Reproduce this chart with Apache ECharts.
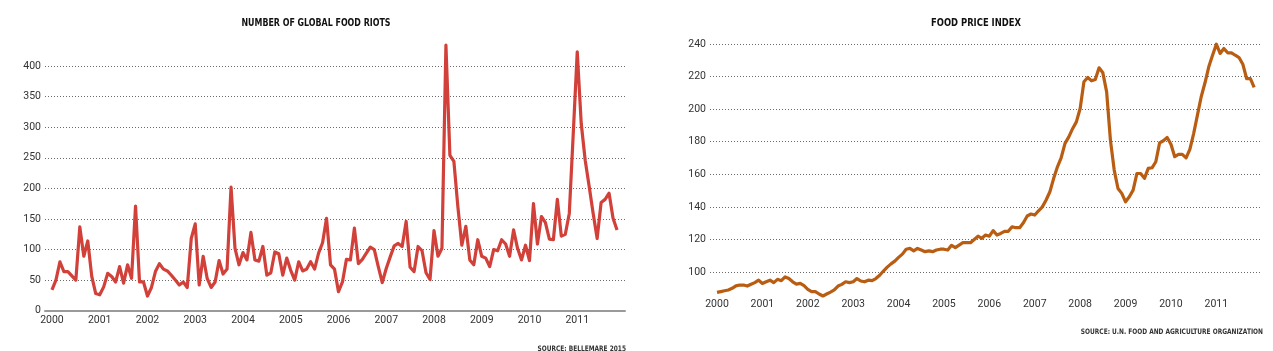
<!DOCTYPE html>
<html>
  <head>
    <meta charset="utf-8">
    <script src="https://cdn.jsdelivr.net/npm/echarts@6.0.0/dist/echarts.min.js"></script>
    <style>
      body { margin: 0; background: #fff; }
    </style>
  </head>
  <body>
    <div id="main" style="width: 1273px;height:351px;"></div>
    <script type="text/javascript">
        // year labels, one per January (month index = year index * 12)
        var years = ['2000','2001','2002','2003','2004','2005','2006','2007','2008','2009','2010','2011'];

        // monthly number of food riots, Jan 2000 - Nov 2011
        var riots = [
            34, 50, 80, 64, 64, 57, 50, 137, 89, 114, 56, 28,
            26, 39, 61, 56, 47, 72, 45, 75, 53, 171, 47, 47,
            24, 38, 64, 77, 68, 65, 58, 50, 42, 47, 38, 118,
            142, 42, 89, 53, 38, 47, 82, 60, 68, 202, 102, 75,
            95, 83, 128, 83, 81, 105, 58, 62, 96, 93, 58, 86,
            66, 50, 80, 65, 68, 80, 68, 94, 111, 151, 75, 68,
            31, 47, 84, 83, 135, 77, 84, 94, 104, 100, 72, 46,
            69, 88, 106, 110, 105, 146, 71, 64, 105, 98, 62, 51,
            131, 89, 102, 434, 254, 244, 170, 107, 138, 83, 75, 116,
            89, 86, 72, 100, 98, 116, 109, 89, 132, 102, 83, 107,
            82, 175, 109, 154, 144, 117, 116, 182, 122, 125, 159, 290,
            423, 306, 246, 203, 159, 118, 177, 182, 192, 151, 132
        ];

        // monthly FAO food price index, Jan 2000 - Nov 2011
        var foodPrice = [
            87.5, 88, 88.5, 89, 90, 91.5, 92, 92, 91.4, 92.5, 93.5, 95,
            93, 94, 95, 93.5, 95.5, 94.7, 97, 96, 94, 92.6, 93, 91.6,
            89.4, 88, 88, 86.5, 85.3, 86.5, 87.7, 89, 91.4, 92.4, 94, 93.5,
            94, 96, 94.5, 94, 95, 94.7, 96, 98, 100.6, 103, 105, 106.7,
            109, 111, 114, 114.5, 113, 114.5, 113.5, 112.5, 113, 112.5, 113.5, 114,
            114, 113.5, 116.4, 115, 116.5, 118, 118, 118, 120, 122, 120.7, 122.7,
            122, 125.4, 122.7, 123.7, 125, 125, 127.8, 127.2, 127.2, 130.3, 134.4, 135.6,
            135, 137.6, 140, 144.2, 149.3, 157.5, 164.6, 170.3, 179, 183, 188, 192.2,
            200.4, 216.8, 219.4, 217.4, 218.2, 225.4, 222.3, 210.6, 181, 162.6, 151.3, 148.3,
            143.1, 146.2, 150.3, 160.5, 160.5, 157.5, 163.6, 164, 167.7, 179.3, 180.6, 182.6,
            178.5, 170.8, 172.2, 172.2, 170.1, 175.3, 185, 196.3, 207.6, 216.2, 226, 233.1,
            239.9, 234.2, 237.2, 234.6, 234.6, 233.1, 231.7, 227.6, 218.8, 218.8, 213.3
        ];

        var yearTicks = years.map(function (y, i) { return i * 12; });
        var yearLabel = function (v) { return years[Math.round(v / 12)]; };

        var labelFont = {
            color: '#333',
            fontFamily: 'Roboto',
            fontSize: 10.5
        };
        var gridDots = {
            show: true,
            showMinLine: false,
            lineStyle: { color: '#6a6a6a', type: [1, 2], width: 1 }
        };
        var headFont = '"Liberation Sans Narrow", "DejaVu Sans Condensed", sans-serif';

        // headings are a condensed bold face, so squeeze them horizontally
        function heading(text, x, y, size, align, squeeze, color) {
            return {
                type: 'text', x: x, y: y, scaleX: squeeze,
                style: { text: text, fontFamily: headFont, fontWeight: 'bold', fontSize: size, fill: color, align: align, verticalAlign: 'middle' }
            };
        }

        var myChart = echarts.init(document.getElementById('main'));

        var option = {
            animation: false,
            backgroundColor: '#fff',
            graphic: [
                heading('NUMBER OF GLOBAL FOOD RIOTS', 316, 23, 11, 'center', 0.8, '#111'),
                heading('FOOD PRICE INDEX', 976, 23, 11, 'center', 0.85, '#111'),
                heading('SOURCE: BELLEMARE 2015', 626, 349, 7.5, 'right', 0.87, '#333'),
                heading('SOURCE: U.N. FOOD AND AGRICULTURE ORGANIZATION', 1263, 332, 7.5, 'right', 0.87, '#333')
            ],
            grid: [
                { left: 45, top: 66, width: 580, height: 244.7 },
                { left: 710, top: 44, width: 552, height: 260.6 }
            ],
            xAxis: [
                {
                    gridIndex: 0,
                    type: 'value',
                    min: -1.75,
                    max: 144,
                    axisLine: { show: true, onZero: false, lineStyle: { color: '#9a9a9a', width: 2 } },
                    axisTick: { show: false },
                    splitLine: { show: false },
                    axisLabel: Object.assign({ margin: 4, customValues: yearTicks, formatter: yearLabel }, labelFont)
                },
                {
                    gridIndex: 1,
                    type: 'value',
                    min: -1.85,
                    max: 144.07,
                    axisLine: { show: false },
                    axisTick: { show: false },
                    splitLine: { show: false },
                    axisLabel: Object.assign({ margin: -6, customValues: yearTicks, formatter: yearLabel }, labelFont)
                }
            ],
            yAxis: [
                {
                    gridIndex: 0,
                    type: 'value',
                    min: 0,
                    max: 400,
                    interval: 50,
                    axisLine: { show: false },
                    axisTick: { show: false },
                    splitLine: gridDots,
                    axisLabel: Object.assign({ margin: 4 }, labelFont)
                },
                {
                    gridIndex: 1,
                    type: 'value',
                    min: 80,
                    max: 240,
                    interval: 20,
                    axisLine: { show: false },
                    axisTick: { show: false },
                    splitLine: gridDots,
                    axisLabel: Object.assign({ margin: 4, showMinLabel: false }, labelFont)
                }
            ],
            series: [
                {
                    type: 'line',
                    xAxisIndex: 0,
                    yAxisIndex: 0,
                    clip: false,
                    symbol: 'none',
                    lineStyle: { color: '#d2403a', width: 3.2, join: 'round' },
                    data: riots.map(function (v, i) { return [i, v]; })
                },
                {
                    type: 'line',
                    xAxisIndex: 1,
                    yAxisIndex: 1,
                    clip: false,
                    symbol: 'none',
                    lineStyle: { color: '#b95d12', width: 3.2, join: 'round' },
                    data: foodPrice.map(function (v, i) { return [i, v]; })
                }
            ]
        };
        myChart.setOption(option);
    </script>
  </body>
</html>
